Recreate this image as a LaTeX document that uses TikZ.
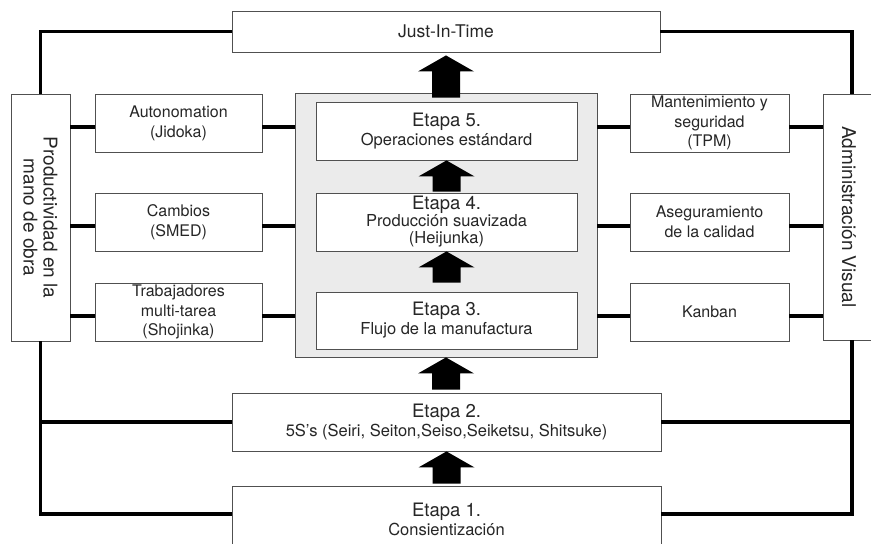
\documentclass[tikz,border=0pt]{standalone}
\usepackage{fontspec}
\setmainfont{TeX Gyre Heros}
\usetikzlibrary{calc}
\definecolor{boxline}{HTML}{505050}
\definecolor{panelfill}{HTML}{EBEBEB}
\definecolor{txt}{HTML}{262626}
\newcommand\blockup[2]{%
  \fill[black] let \p1=(#1), \p2=(#2) in
    (\x2-14pt,\y1) -- (\x2+14pt,\y1) -- (\x2+14pt,\y2-16pt) -- (\x2+28pt,\y2-16pt)
    -- (\x2,\y2) -- (\x2-28pt,\y2-16pt) -- (\x2-14pt,\y2-16pt) -- cycle;}
\tikzset{
  box/.style={draw=boxline, line width=0.9pt, fill=white, inner sep=0pt, align=center,
    text=txt, font=\fontsize{16}{20}\selectfont},
  etbox/.style={box, font=\fontsize{16.5}{19}\selectfont},
  panel/.style={draw=boxline, line width=0.9pt, fill=panelfill, inner sep=0pt},
  conn/.style={line width=4.8pt, black},
  outer/.style={line width=3.2pt, black},
}
\newcommand\ettitle[1]{{\fontsize{18.5}{19}\selectfont #1}}
\begin{document}
\begin{tikzpicture}[x=1pt,y=-1pt]
\useasboundingbox (0,0) rectangle (871,544);
\clip (0,0) rectangle (871,544);
\fill[white] (0,0) rectangle (871,544);

% top box
\node[box, minimum width=428pt, minimum height=41pt, font=\fontsize{17.5}{20}\selectfont] (JIT) at (446,31.5) {Just-In-Time};

% side tall boxes (rotated clockwise: west=top, east=bottom, north=right, south=left)
\node[box, rotate=-90, minimum width=247pt, minimum height=59pt, font=\fontsize{19}{20}\selectfont] (LB) at (40.5,217.5) {Productividad en la\\mano de obra};
\node[box, rotate=-90, minimum width=246pt, minimum height=52pt, font=\fontsize{19}{20}\selectfont] (RB) at (849,217) {Administración Visual};

% panel
\node[panel, minimum width=302pt, minimum height=264pt] (P) at (446,225) {};

% left boxes
\node[box, minimum width=167pt, minimum height=58pt] (L1) at (178.5,123) {Autonomation\\(Jidoka)};
\node[box, minimum width=167pt, minimum height=58pt] (L2) at (178.5,222) {Cambios\\(SMED)};
\node[box, minimum width=167pt, minimum height=58pt, font=\fontsize{16}{19.5}\selectfont] (L3) at (178.5,312) {Trabajadores\\multi-tarea\\(Shojinka)};

% right boxes
\node[box, minimum width=159pt, minimum height=58pt, font=\fontsize{16}{19.5}\selectfont] (R1) at (709.5,123) {Mantenimiento y\\seguridad\\(TPM)};
\node[box, minimum width=159pt, minimum height=58pt] (R2) at (709.5,222) {Aseguramiento\\de la calidad};
\node[box, minimum width=159pt, minimum height=58pt] (R3) at (709.5,312) {Kanban};

% etapas
\node[etbox, minimum width=261pt, minimum height=58pt] (E5) at (446.5,131) {\ettitle{Etapa 5.}\\Operaciones estándard};
\node[etbox, minimum width=261pt, minimum height=58pt, font=\fontsize{16.5}{17}\selectfont] (E4) at (446.5,222) {{\fontsize{18.5}{18.5}\selectfont Etapa 4.}\\Producción suavizada\\(Heijunka)};
\node[etbox, minimum width=261pt, minimum height=57pt] (E3) at (446.5,320.5) {\ettitle{Etapa 3.}\\Flujo de la manufactura};
\node[etbox, minimum width=429pt, minimum height=58pt] (E2) at (446.5,422) {\ettitle{Etapa 2.}\\5S’s (Seiri, Seiton,Seiso,Seiketsu, Shitsuke)};
\node[etbox, minimum width=429pt, minimum height=66pt] (E1) at (446.5,519) {\ettitle{Etapa 1.}\\Consientización};

% row connectors
\foreach \r in {1,2,3}{
  \draw[conn] ([yshift=-4pt]L\r.west) -- ([yshift=-4pt]L\r.west -| LB.north);
  \draw[conn] ([yshift=-4pt]L\r.east) -- ([yshift=-4pt]L\r.east -| P.west);
  \draw[conn] ([yshift=-4pt]R\r.west) -- ([yshift=-4pt]R\r.west -| P.east);
  \draw[conn] ([yshift=-4pt]R\r.east) -- ([yshift=-4pt]R\r.east -| RB.south);
}

% outer frame lines
\draw[outer] (JIT.west) -| (LB.west);
\draw[outer] (JIT.east) -| ([xshift=3pt]RB.west);
\draw[outer] (LB.east) |- ([yshift=5pt]E1.west);
\draw[outer] (LB.east |- E2.west) -- (E2.west);
\draw[outer] ([xshift=3pt]RB.east) |- ([yshift=5pt]E1.east);
\draw[outer] ([xshift=3pt]RB.east |- E2.east) -- (E2.east);

% block arrows (bottom point, tip)
\blockup{[yshift=-5pt]P.north}{[yshift=-3pt]JIT.south}
\blockup{[yshift=1pt]E4.north}{E5.south}
\blockup{[yshift=9pt]E3.north}{E4.south}
\blockup{[yshift=3pt]E2.north}{P.south}
\blockup{[yshift=2pt]E1.north}{E2.south}
\end{tikzpicture}
\end{document}
